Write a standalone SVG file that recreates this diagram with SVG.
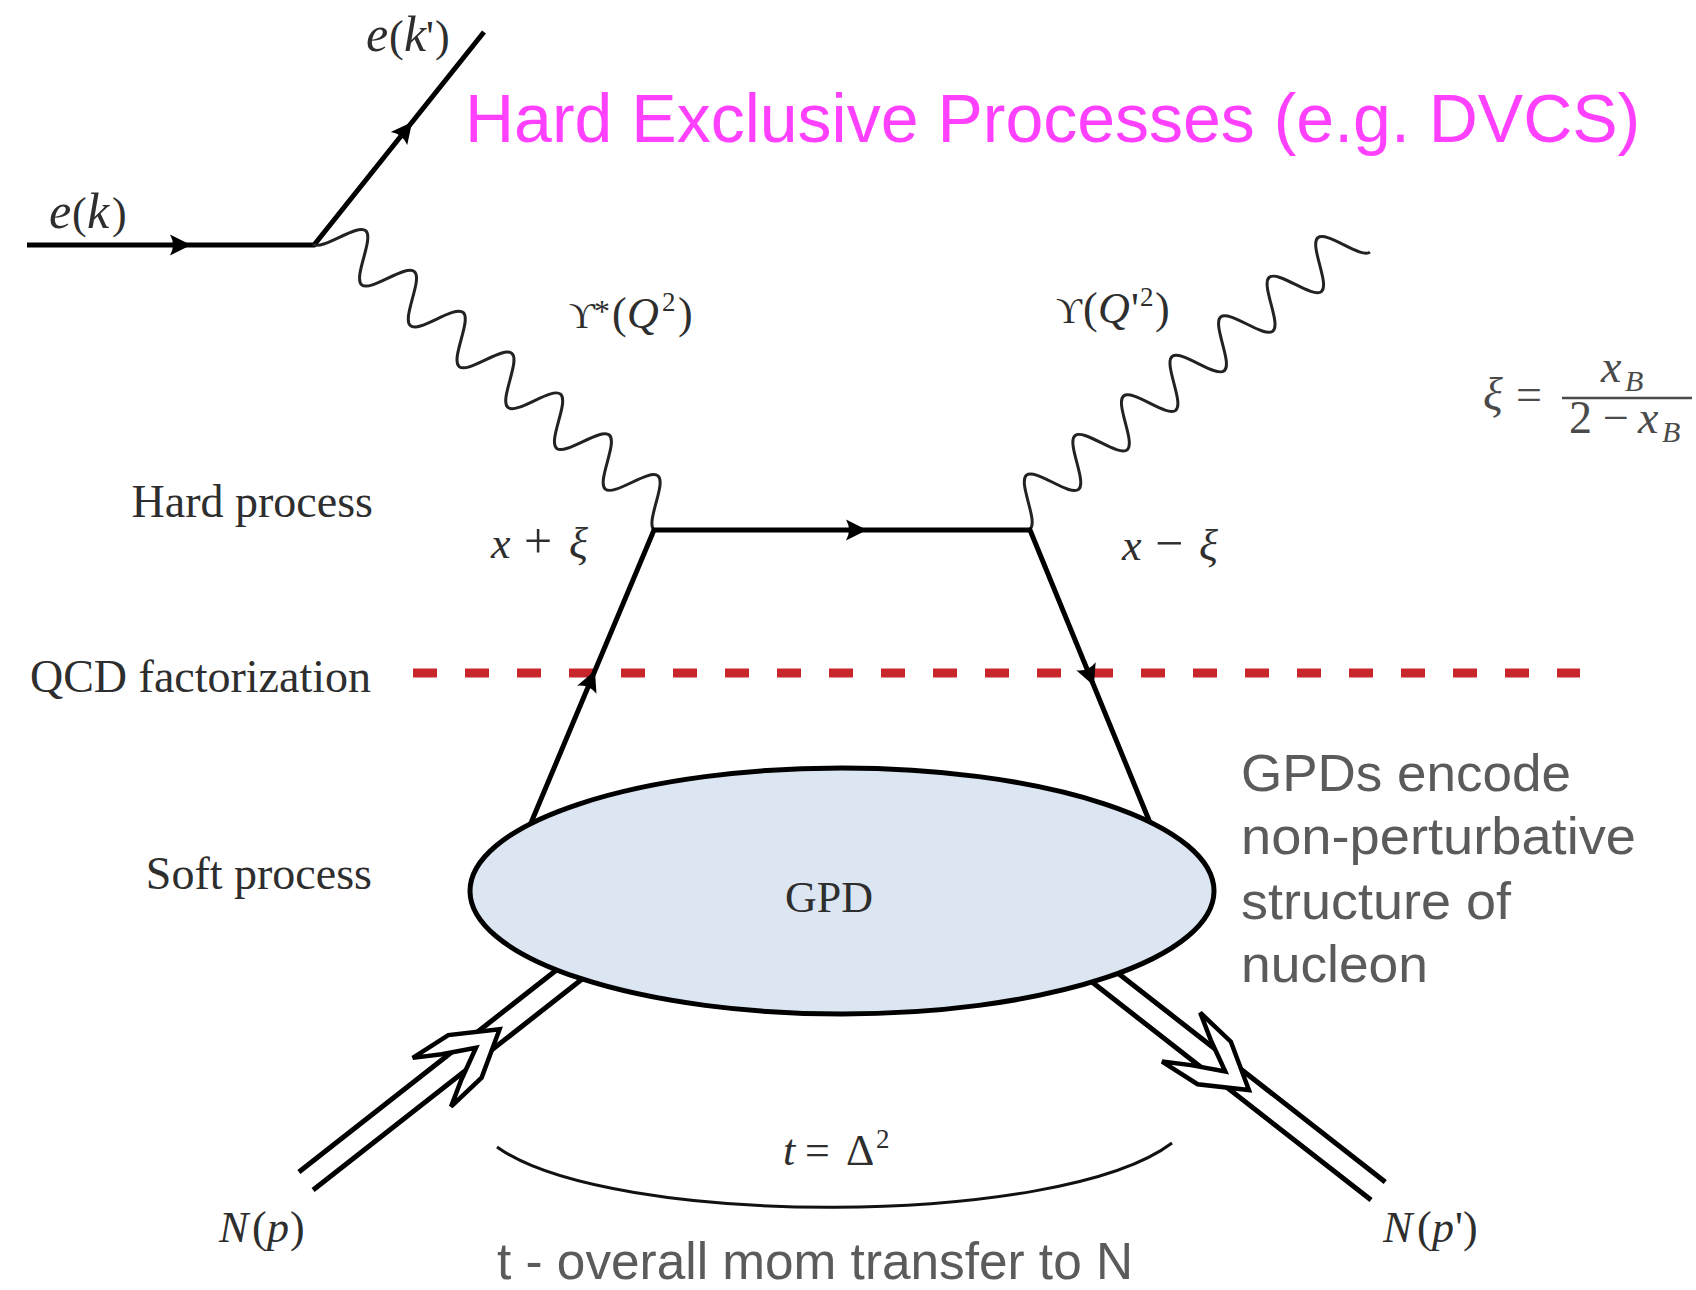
<svg xmlns="http://www.w3.org/2000/svg" width="1696" height="1290" viewBox="0 0 1696 1290">
<style>
.ln{fill:none;stroke:#000;stroke-width:5;stroke-linejoin:miter}
.wave{fill:none;stroke:#222;stroke-width:3}
.m{font-family:"Liberation Serif","DejaVu Serif",serif;fill:#2e2e2e;font-size:44px}
.i{font-style:italic}
.L{font-size:50px}
.sup{font-size:27px}
.side{font-family:"Liberation Serif","DejaVu Serif",serif;fill:#2e2e2e;font-size:46px;text-anchor:end}
.note{font-family:"Liberation Sans",Arial,sans-serif;fill:#5b5b5b;font-size:52px}
.frac{font-family:"Liberation Serif","DejaVu Serif",serif;fill:#4a4a4a;font-size:46px}
</style>
<defs>
<path id="wave" d="M0,0 C11.47,0 20.03,-44 31.5,-44 S51.53,0 63,0 S83.03,-44 94.5,-44 S114.53,0 126,0 S146.03,-44 157.5,-44 S177.53,0 189,0 S209.03,-44 220.5,-44 S240.53,0 252,0 S272.03,-44 283.5,-44 S303.53,0 315,0 S335.03,-44 346.5,-44 S366.53,0 378,0 S398.03,-44 409.5,-44 S429.53,0 441,0"/>
<path id="ah" d="M5,0 L-16,-10.5 Q-10,0 -16,10.5 Z" fill="#000"/>
<path id="chev" d="M0,0 L-44,-27 L-86,-31 L-61,-16 L-30,0 L-61,16 L-86,31 L-44,27 Z" fill="#fff" stroke="#000" stroke-width="4.5" stroke-linejoin="miter"/>
</defs>
<rect width="1696" height="1290" fill="#fff"/>

<text id="title" x="465" y="142" font-family="Liberation Sans,Arial,sans-serif" font-size="68" fill="#FF40FF">Hard Exclusive Processes (e.g. DVCS)</text>

<g id="connectors">
  <g id="factorization-line">
    <path d="M413,673 L1580,673" fill="none" stroke="#C8262C" stroke-width="9" stroke-dasharray="24 28"/>
  </g>
  <g id="electron">
    <path class="ln" d="M27,245 L314,245 L484,32"/>
    <use href="#ah" transform="translate(186,245)"/>
    <use href="#ah" transform="translate(409,126) rotate(-51.4)"/>
  </g>
  <g id="photons">
    <use href="#wave" class="wave" transform="translate(313,244) rotate(39.98) scale(1.0093,1)"/>
    <use href="#wave" class="wave" transform="translate(1030,529) rotate(-39.17) scale(0.9943,1)"/>
  </g>
  <g id="quark">
    <path class="ln" d="M528,830 L654,530 L1030,530 L1153,830"/>
    <use href="#ah" transform="translate(862,530)"/>
    <use href="#ah" transform="translate(593,675) rotate(-67.2)"/>
    <use href="#ah" transform="translate(1092,681) rotate(67.7)"/>
  </g>
  <g id="proton-in" transform="translate(306,1181) rotate(-38.1)">
    <path class="ln" d="M0,-11.5 L365,-11.5 M0,11.5 L365,11.5"/>
    <use href="#chev" transform="translate(246,0)"/>
  </g>
  <g id="proton-out" transform="translate(1105.5,978) rotate(38)">
    <path class="ln" d="M-30,-11.5 L346,-11.5 M-30,11.5 L346,11.5"/>
    <use href="#chev" transform="translate(182,0)"/>
  </g>
  <g id="t-arc">
    <path d="M497,1147 C610,1228 1060,1228 1172,1143" fill="none" stroke="#111" stroke-width="3"/>
  </g>
</g>

<g id="gpd">
  <ellipse cx="842" cy="891" rx="372" ry="123" fill="#DCE6F2" stroke="#000" stroke-width="5"/>
  <text x="829" y="912" class="m" font-size="48" text-anchor="middle">GPD</text>
</g>

<g id="labels-particles">
  <text class="m" y="228"><tspan x="49" class="i L">e</tspan><tspan x="72">(</tspan><tspan x="87" class="i L">k</tspan><tspan x="112">)</tspan></text>
  <text class="m" y="51"><tspan x="366" class="i L">e</tspan><tspan x="389">(</tspan><tspan x="404" class="i L">k</tspan><tspan x="426">'</tspan><tspan x="435">)</tspan></text>
  <text class="m" y="328"><tspan x="569" font-size="36">ϒ</tspan><tspan x="594" dy="-6" font-size="32">*</tspan><tspan x="612" dy="6">(</tspan><tspan x="627" class="i">Q</tspan><tspan x="662" dy="-17" class="sup">2</tspan><tspan x="678" dy="17">)</tspan></text>
  <text class="m" y="323"><tspan x="1056" font-size="36">ϒ</tspan><tspan x="1083">(</tspan><tspan x="1098" class="i">Q</tspan><tspan x="1131">'</tspan><tspan x="1140" dy="-17" class="sup">2</tspan><tspan x="1155" dy="17">)</tspan></text>
  <text class="m" y="558" font-size="44"><tspan x="491" class="i">x</tspan><tspan x="524" font-size="50">+</tspan><tspan x="569" class="i">ξ</tspan></text>
  <text class="m" y="560" font-size="44"><tspan x="1122" class="i">x</tspan><tspan x="1155" font-size="50">−</tspan><tspan x="1199" class="i">ξ</tspan></text>
  <text class="m" y="1242" font-size="42"><tspan x="219" class="i">N</tspan><tspan x="252">(</tspan><tspan x="267" class="i">p</tspan><tspan x="290">)</tspan></text>
  <text class="m" y="1242" font-size="42"><tspan x="1383" class="i">N</tspan><tspan x="1417">(</tspan><tspan x="1432" class="i">p</tspan><tspan x="1455">'</tspan><tspan x="1463">)</tspan></text>
  <text class="m" y="1165" font-size="40"><tspan x="783" class="i">t</tspan><tspan x="805">=</tspan><tspan x="846">Δ</tspan><tspan x="876" dy="-17" class="sup" font-size="26">2</tspan></text>
</g>

<g id="labels-side">
  <text class="side" x="373" y="517">Hard process</text>
  <text class="side" x="371" y="692">QCD factorization</text>
  <text class="side" x="372" y="889">Soft process</text>
</g>

<g id="xi-formula">
  <text class="frac" y="410"><tspan x="1483" class="i">ξ</tspan><tspan x="1516">=</tspan></text>
  <line x1="1562" y1="398" x2="1692" y2="398" stroke="#4a4a4a" stroke-width="2.4"/>
  <text class="frac" y="382"><tspan x="1601" class="i">x</tspan><tspan x="1625" dy="9" class="i" font-size="30">B</tspan></text>
  <text class="frac" y="433"><tspan x="1569">2</tspan><tspan x="1603">−</tspan><tspan x="1638" class="i">x</tspan><tspan x="1662" dy="9" class="i" font-size="30">B</tspan></text>
</g>

<g id="gpd-note">
  <text class="note" x="1241" y="791" textLength="330" lengthAdjust="spacingAndGlyphs">GPDs encode</text>
  <text class="note" x="1241" y="854" textLength="395" lengthAdjust="spacingAndGlyphs">non-perturbative</text>
  <text class="note" x="1241" y="919" textLength="270" lengthAdjust="spacingAndGlyphs">structure of</text>
  <text class="note" x="1241" y="982" textLength="187" lengthAdjust="spacingAndGlyphs">nucleon</text>
</g>

<text id="t-note" class="note" x="497" y="1279" font-size="51" textLength="636" lengthAdjust="spacingAndGlyphs">t - overall mom transfer to N</text>
</svg>
